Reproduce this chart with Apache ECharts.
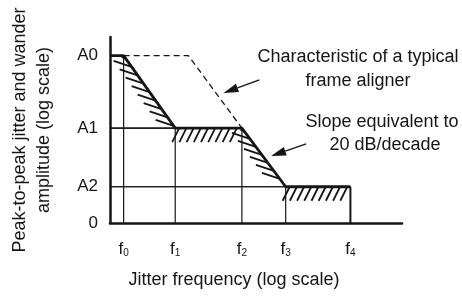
<!DOCTYPE html>
<html>
<head>
<meta charset="utf-8">
<script src="https://cdn.jsdelivr.net/npm/echarts@6/dist/echarts.min.js"></script>
<style>
  html, body { margin: 0; padding: 0; background: #fff; }
  #chart { width: 462px; height: 297px; }
</style>
</head>
<body>
<div id="chart"></div>
<script>
// corner frequencies f0..f4 (position on the log axis, arbitrary decades)
var freqPos = [0.28, 1.34, 2.71, 3.61, 4.94]
var freqLabels = ['0', '1', '2', '3', '4']
// amplitude levels on the log axis
var ampPos = [0, 1.95, 5.1, 9.0]
var ampLabels = ['0', 'A2', 'A1', 'A0']
// tolerance mask corners (f, amplitude)
var maskX = [0, 0.28, 1.34, 2.71, 3.61, 4.94]
var maskY = [9.0, 9.0, 5.1, 5.1, 1.95, 1.95]
// frame aligner characteristic
var alignerX = [0.28, 1.61, 2.71]
var alignerY = [9.0, 9.0, 5.1]
// annotation arrows [fromX, fromY, toX, toY]
var arrows = [[3.07, 7.69, 2.33, 6.99], [4.03, 4.25, 3.31, 3.60]]

const ink = '#151515'
const font = '"Liberation Sans", Arial, sans-serif'
const myChart = echarts.init(document.getElementById('chart'))

// hatch strokes per mask segment: 0 = none, 1 = sloped part, 2 = flat part
const hatchKind = [0, 1, 2, 1, 2]
const maskData = maskX.map((x, i) => [x, maskY[i]])

const option = {
    animation: false,
    grid: { left: 101, right: 60, top: 37, bottom: 74 },
    xAxis: {
        type: 'value', min: 0, max: 6,
        name: 'Jitter frequency (log scale)',
        nameLocation: 'middle',
        nameGap: 48,
        nameTextStyle: { fontFamily: font, fontSize: 18, color: ink, padding: [0, 44, 0, 0] },
        axisLine: { lineStyle: { color: ink, width: 2.5 } },
        axisTick: { show: false },
        splitLine: { show: false },
        axisLabel: {
            customValues: freqPos,
            margin: 15,
            formatter: function (v) {
                let i = freqPos.indexOf(v)
                return '{f|f}{s|' + freqLabels[i] + '}'
            },
            rich: {
                f: { fontFamily: font, fontSize: 17, color: ink, verticalAlign: 'bottom', lineHeight: 20 },
                s: { fontFamily: font, fontSize: 10, color: ink, verticalAlign: 'bottom', lineHeight: 14 }
            }
        }
    },
    yAxis: {
        type: 'value', min: 0, max: 10,
        name: 'Peak-to-peak jitter and wander\namplitude (log scale)',
        nameLocation: 'middle',
        nameGap: 48,
        nameTextStyle: { fontFamily: font, fontSize: 18, lineHeight: 24, color: ink, padding: [0, 0, 6, 0] },
        axisLine: { show: true, lineStyle: { color: ink, width: 2.5 } },
        axisTick: { show: false },
        splitLine: { show: false },
        axisLabel: {
            customValues: ampPos,
            margin: 12,
            fontFamily: font,
            fontSize: 17,
            color: ink,
            formatter: function (v) {
                return ampLabels[ampPos.indexOf(v)]
            }
        }
    },
    graphic: [
        { type: 'text', x: 358, y: 57, style: { text: 'Characteristic of a typical', font: '18px ' + font, fill: ink, align: 'center', verticalAlign: 'middle' } },
        { type: 'text', x: 358, y: 81, style: { text: 'frame aligner', font: '18px ' + font, fill: ink, align: 'center', verticalAlign: 'middle' } },
        { type: 'text', x: 382, y: 122, style: { text: 'Slope equivalent to', font: '18px ' + font, fill: ink, align: 'center', verticalAlign: 'middle' } },
        { type: 'text', x: 385, y: 145, style: { text: '20 dB/decade', font: '18px ' + font, fill: ink, align: 'center', verticalAlign: 'middle' } }
    ],
    series: [
        {
            // hatching under each mask segment
            type: 'custom',
            data: [0],
            silent: true,
            z: 1,
            renderItem: function (params, api) {
                let pts = maskData.map(p => api.coord(p))
                let left = api.coord([0, 0])[0]
                let children = []
                for (let i = 0; i < pts.length - 1; i++) {
                    if (!hatchKind[i]) continue
                    let p = pts[i], q = pts[i + 1]
                    let L = q[0] - p[0]
                    let sloped = hatchKind[i] === 1
                    let v = sloped ? [-18, -6] : [-7, 14]
                    let step = sloped ? 6 : 7.2
                    let start = sloped ? 2 : 4
                    for (let t = start; t <= L - 1; t += step) {
                        let x = p[0] + t, y = p[1] + (q[1] - p[1]) * t / L
                        let k = 1
                        // keep sloped strokes under the flat level above and right of the axis
                        if (sloped && y + v[1] < p[1] + 1.5) k = Math.min(k, (y - p[1] - 1.5) / -v[1])
                        if (x + v[0] * k < left + 1) k = Math.min(k, (x - left - 1) / -v[0])
                        children.push({
                            type: 'line',
                            shape: { x1: x, y1: y, x2: x + v[0] * k, y2: y + v[1] * k },
                            style: { stroke: ink, lineWidth: 1.8 }
                        })
                    }
                }
                return { type: 'group', children: children }
            }
        },
        {
            // thin drop lines from each corner to both axes
            type: 'custom',
            data: maskData.slice(1),
            silent: true,
            z: 2,
            renderItem: function (params, api) {
                let x = api.value(0), y = api.value(1)
                let p = api.coord([x, y]), bx = api.coord([x, 0]), ly = api.coord([0, y])
                let last = params.dataIndex === maskData.length - 2
                return {
                    type: 'group',
                    children: [
                        { type: 'line', shape: { x1: p[0], y1: p[1], x2: bx[0], y2: bx[1] }, style: { stroke: ink, lineWidth: last ? 2 : 1.2 } },
                        { type: 'line', shape: { x1: ly[0], y1: ly[1], x2: p[0], y2: p[1] }, style: { stroke: ink, lineWidth: 1.2 } }
                    ]
                }
            }
        },
        {
            type: 'line',
            data: maskData,
            symbol: 'none',
            z: 3,
            lineStyle: { color: ink, width: 2.8 }
        },
        {
            type: 'line',
            data: alignerX.map((x, i) => [x, alignerY[i]]),
            symbol: 'none',
            z: 3,
            lineStyle: { color: ink, width: 1.3, type: [6, 4] }
        },
        {
            // annotation arrows
            type: 'custom',
            data: arrows,
            silent: true,
            z: 4,
            renderItem: function (params, api) {
                let a = api.coord([api.value(0), api.value(1)])
                let b = api.coord([api.value(2), api.value(3)])
                let dx = b[0] - a[0], dy = b[1] - a[1]
                let len = Math.sqrt(dx * dx + dy * dy)
                let ux = dx / len, uy = dy / len
                let hl = 15, hw = 4.5
                let base = [b[0] - ux * hl, b[1] - uy * hl]
                return {
                    type: 'group',
                    children: [
                        { type: 'line', shape: { x1: a[0], y1: a[1], x2: base[0], y2: base[1] }, style: { stroke: ink, lineWidth: 1.4 } },
                        {
                            type: 'polygon',
                            shape: { points: [b, [base[0] - uy * hw, base[1] + ux * hw], [base[0] + uy * hw, base[1] - ux * hw]] },
                            style: { fill: ink }
                        }
                    ]
                }
            }
        }
    ]
}
myChart.setOption(option)
</script>
</body>
</html>
